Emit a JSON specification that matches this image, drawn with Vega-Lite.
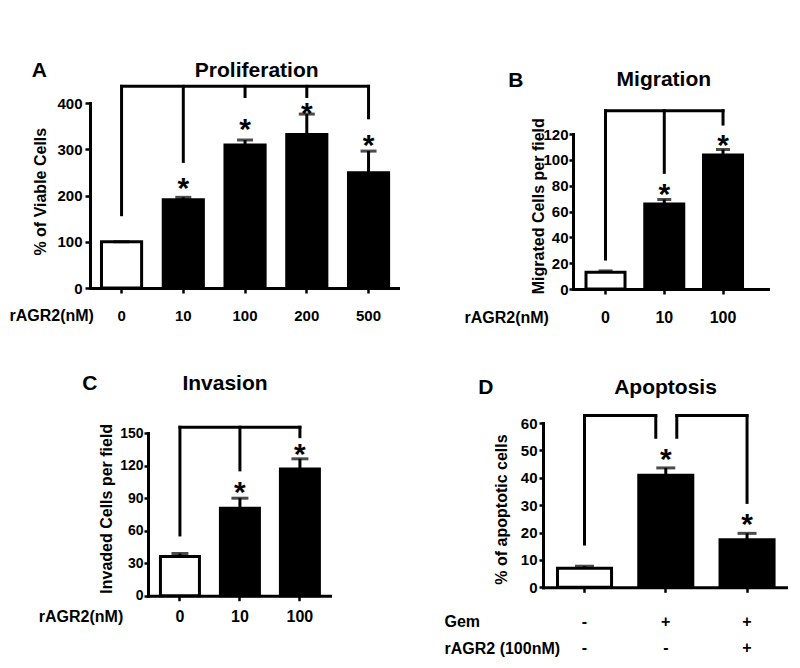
{
  "$schema": "https://vega.github.io/schema/vega-lite/v6.json",
  "padding": 0,
  "config": {
    "font": "Liberation Sans",
    "view": {"stroke": null},
    "axis": {
      "grid": false, "domainColor": "black", "domainWidth": 3, "domainCap": "square",
      "tickColor": "black", "tickWidth": 2.5, "labelColor": "black", "labelFont": "Liberation Sans",
      "labelFontWeight": "bold", "titleColor": "black", "titleFont": "Liberation Sans",
      "titleFontWeight": "bold", "titleFontSize": 16, "labelOverlap": false, "maxExtent": 300
    },
    "axisX": {"labelAngle": 0, "tickSize": 5, "labelFontSize": 16, "titleAlign": "left", "titleBaseline": "middle", "labelBaseline": "middle"},
    "axisY": {"labelFontSize": 15, "titleBaseline": "middle", "titleAlign": "center", "tickCount": 20},
    "title": {"font": "Liberation Sans", "fontSize": 21, "fontWeight": "bold", "color": "black"}
  },
  "datasets": {
    "none": [],
    "A_bars": [
      {"cat": "0", "grp": "ctl", "value": 100, "err": 100, "star": null},
      {"cat": "10", "grp": "trt", "value": 191, "err": 196, "star": 230.5},
      {"cat": "100", "grp": "trt", "value": 309, "err": 320, "star": 360},
      {"cat": "200", "grp": "trt", "value": 332, "err": 376, "star": 394},
      {"cat": "500", "grp": "trt", "value": 249, "err": 296, "star": 325}
    ],
    "A_h": [{"cat": "0", "cat2": "500", "top": 436}],
    "A_v": [
      {"cat": "0", "top": 436, "bot": 158.5},
      {"cat": "10", "top": 436, "bot": 273.7},
      {"cat": "100", "top": 436, "bot": 414},
      {"cat": "200", "top": 436, "bot": 414},
      {"cat": "500", "top": 436, "bot": 368}
    ],
    "B_bars": [
      {"cat": "0", "grp": "ctl", "value": 13, "err": 14, "star": null},
      {"cat": "10", "grp": "trt", "value": 65.9, "err": 69.3, "star": 79.2},
      {"cat": "100", "grp": "trt", "value": 103.8, "err": 108, "star": 116.9}
    ],
    "B_h": [{"cat": "0", "cat2": "100", "top": 138}],
    "B_v": [
      {"cat": "0", "top": 138, "bot": 23.2},
      {"cat": "10", "top": 138, "bot": 90.3},
      {"cat": "100", "top": 138, "bot": 127.7}
    ],
    "C_bars": [
      {"cat": "0", "grp": "ctl", "value": 36.1, "err": 38.9, "star": null},
      {"cat": "10", "grp": "trt", "value": 80.7, "err": 89.9, "star": 102},
      {"cat": "100", "grp": "trt", "value": 116.7, "err": 126.2, "star": 136.8}
    ],
    "C_h": [{"cat": "0", "cat2": "100", "top": 155.3}],
    "C_v": [
      {"cat": "0", "top": 155.3, "bot": 56},
      {"cat": "10", "top": 155.3, "bot": 116},
      {"cat": "100", "top": 155.3, "bot": 146.6}
    ],
    "D_bars": [
      {"cat": "-|-", "grp": "ctl", "value": 7, "err": 7.7, "star": null},
      {"cat": "+|-", "grp": "trt", "value": 40.9, "err": 43.6, "star": 49.3},
      {"cat": "+|+", "grp": "trt", "value": 17.4, "err": 19.7, "star": 25.6}
    ],
    "D_hL": [{"cat": "-|-", "cat2": "+|-", "top": 62.7}],
    "D_hR": [{"cat": "+|-", "cat2": "+|+", "top": 62.7}],
    "D_vO": [
      {"cat": "-|-", "top": 62.7, "bot": 15.8},
      {"cat": "+|+", "top": 62.7, "bot": 31}
    ],
    "D_vI": [{"cat": "+|-", "top": 62.7, "bot": 54.8}]
  },
  "columns": 2,
  "align": "none",
  "spacing": 0,
  "concat": [
    {
      "columns": 1, "align": "none", "spacing": 0,
      "concat": [
        {"width": 1, "height": 60, "data": {"name": "none"}, "mark": "point"},
        {
          "columns": 2, "align": "none", "spacing": 0,
          "concat": [
            {"width": 8, "height": 1, "data": {"name": "none"}, "mark": "point"},
            {
              "title": {"text": "A", "anchor": "start", "frame": "bounds", "offset": -21, "dx": 23.7},
              "vconcat": [
                {
                  "width": 308, "height": 185,
                  "title": {"text": "Proliferation", "anchor": "middle", "frame": "group", "offset": 3, "dx": 12.7},
                  "data": {"name": "A_bars"},
                  "layer": [
                    {
                      "mark": {"type": "bar", "stroke": "black", "strokeWidth": 3},
                      "encoding": {
                        "x": {"field": "cat", "type": "nominal",
                          "scale": {"domain": ["0", "10", "100", "200", "500"], "paddingInner": 0.35, "paddingOuter": 0.169, "align": 0.55},
                          "axis": {"title": "rAGR2(nM)", "labelPadding": 22, "labelFontSize": 15, "titleX": -81, "titleY": 27, "minExtent": 85, "labelOverlap": false}},
                        "y": {"field": "value", "type": "quantitative",
                          "scale": {"domain": [0, 400], "nice": false},
                          "axis": {"title": "% of Viable Cells", "values": [0, 100, 200, 300, 400], "tickCount": 20, "tickSize": 5, "labelPadding": 3, "labelFontSize": 15, "minExtent": 82, "titleX": -50, "titleY": 88.2, "labelOverlap": false}},
                        "fill": {"field": "grp", "type": "nominal", "scale": {"domain": ["ctl", "trt"], "range": ["white", "black"]}, "legend": null}
                      }
                    },
                    {
                      "mark": {"type": "rule", "color": "black", "strokeWidth": 3},
                      "encoding": {"x": {"field": "cat", "type": "nominal"}, "y": {"field": "value", "type": "quantitative"}, "y2": {"field": "err"}}
                    },
                    {
                      "mark": {"type": "tick", "color": "black", "thickness": 3, "size": 16},
                      "encoding": {"x": {"field": "cat", "type": "nominal"}, "y": {"field": "err", "type": "quantitative"}}
                    },
                    {
                      "transform": [{"filter": "isValid(datum.star)"}],
                      "mark": {"type": "text", "text": "*", "fontSize": 30, "fontWeight": "bold", "dy": 17, "baseline": "alphabetic", "color": "black"},
                      "encoding": {"x": {"field": "cat", "type": "nominal"}, "y": {"field": "star", "type": "quantitative"}}
                    },
                    {
                      "data": {"name": "A_h"},
                      "mark": {"type": "rule", "color": "black", "strokeWidth": 3, "strokeCap": "square"},
                      "encoding": {"x": {"field": "cat", "type": "nominal", "bandPosition": 0.5}, "x2": {"field": "cat2", "bandPosition": 0.5}, "y": {"field": "top", "type": "quantitative"}}
                    },
                    {
                      "data": {"name": "A_v"},
                      "mark": {"type": "rule", "color": "black", "strokeWidth": 3, "strokeCap": "square"},
                      "encoding": {"x": {"field": "cat", "type": "nominal"}, "y": {"field": "top", "type": "quantitative"}, "y2": {"field": "bot"}}
                    }
                  ]
                }
              ]
            }
          ]
        },
        {
          "columns": 2, "align": "none", "spacing": 0,
          "concat": [
            {"width": 9, "height": 1, "data": {"name": "none"}, "mark": "point"},
            {
              "title": {"text": "C", "anchor": "start", "frame": "bounds", "offset": -21, "dx": 73.3},
              "vconcat": [
                {
                  "width": 182, "height": 162.7,
                  "title": {"text": "Invasion", "anchor": "middle", "frame": "group", "offset": 29, "dx": -14},
                  "data": {"name": "C_bars"},
                  "layer": [
                    {
                      "mark": {"type": "bar", "stroke": "black", "strokeWidth": 3},
                      "encoding": {
                        "x": {"field": "cat", "type": "nominal",
                          "scale": {"domain": ["0", "10", "100"], "paddingInner": 0.35, "paddingOuter": 0.192, "align": 0.54},
                          "axis": {"title": "rAGR2(nM)", "labelPadding": 16, "titleX": -109.7, "titleY": 21, "minExtent": 40, "labelOverlap": false}},
                        "y": {"field": "value", "type": "quantitative",
                          "scale": {"domain": [0, 150], "nice": false},
                          "axis": {"title": "Invaded Cells per field", "values": [0, 30, 60, 90, 120, 150], "tickCount": 20, "tickSize": 4, "labelPadding": 1, "labelFontSize": 14, "minExtent": 139, "titleX": -41.3, "titleY": 75.3, "labelOverlap": false}},
                        "fill": {"field": "grp", "type": "nominal", "scale": {"domain": ["ctl", "trt"], "range": ["white", "black"]}, "legend": null}
                      }
                    },
                    {
                      "mark": {"type": "rule", "color": "black", "strokeWidth": 3},
                      "encoding": {"x": {"field": "cat", "type": "nominal"}, "y": {"field": "value", "type": "quantitative"}, "y2": {"field": "err"}}
                    },
                    {
                      "mark": {"type": "tick", "color": "black", "thickness": 3, "size": 17},
                      "encoding": {"x": {"field": "cat", "type": "nominal"}, "y": {"field": "err", "type": "quantitative"}}
                    },
                    {
                      "transform": [{"filter": "isValid(datum.star)"}],
                      "mark": {"type": "text", "text": "*", "fontSize": 30, "fontWeight": "bold", "dy": 17, "baseline": "alphabetic", "color": "black"},
                      "encoding": {"x": {"field": "cat", "type": "nominal"}, "y": {"field": "star", "type": "quantitative"}}
                    },
                    {
                      "data": {"name": "C_h"},
                      "mark": {"type": "rule", "color": "black", "strokeWidth": 3, "strokeCap": "square"},
                      "encoding": {"x": {"field": "cat", "type": "nominal", "bandPosition": 0.5}, "x2": {"field": "cat2", "bandPosition": 0.5}, "y": {"field": "top", "type": "quantitative"}}
                    },
                    {
                      "data": {"name": "C_v"},
                      "mark": {"type": "rule", "color": "black", "strokeWidth": 3, "strokeCap": "square"},
                      "encoding": {"x": {"field": "cat", "type": "nominal"}, "y": {"field": "top", "type": "quantitative"}, "y2": {"field": "bot"}}
                    }
                  ]
                }
              ]
            }
          ]
        }
      ]
    },
    {
      "columns": 1, "align": "none", "spacing": 0,
      "concat": [
        {"width": 1, "height": 68, "data": {"name": "none"}, "mark": "point"},
        {
          "columns": 2, "align": "none", "spacing": 0,
          "concat": [
            {"width": 65, "height": 1, "data": {"name": "none"}, "mark": "point"},
            {
              "title": {"text": "B", "anchor": "start", "frame": "bounds", "offset": -22.2, "dx": 45.2},
              "vconcat": [
                {
                  "width": 195, "height": 155,
                  "title": {"text": "Migration", "anchor": "middle", "frame": "group", "offset": 19, "dx": -6.7},
                  "data": {"name": "B_bars"},
                  "layer": [
                    {
                      "mark": {"type": "bar", "stroke": "black", "strokeWidth": 3},
                      "encoding": {
                        "x": {"field": "cat", "type": "nominal",
                          "scale": {"domain": ["0", "10", "100"], "paddingInner": 0.336, "paddingOuter": 0.3275, "align": 0.338},
                          "axis": {"title": "rAGR2(nM)", "labelPadding": 23.4, "titleX": -109, "titleY": 28.4, "minExtent": 87.5, "labelOverlap": false}},
                        "y": {"field": "value", "type": "quantitative",
                          "scale": {"domain": [0, 120], "nice": false},
                          "axis": {"title": "Migrated Cells per field", "values": [0, 20, 40, 60, 80, 100, 120], "tickCount": 20, "tickSize": 4, "labelPadding": 1, "minExtent": 110, "titleX": -35, "titleY": 71.7, "labelOverlap": false}},
                        "fill": {"field": "grp", "type": "nominal", "scale": {"domain": ["ctl", "trt"], "range": ["white", "black"]}, "legend": null}
                      }
                    },
                    {
                      "mark": {"type": "rule", "color": "black", "strokeWidth": 3},
                      "encoding": {"x": {"field": "cat", "type": "nominal"}, "y": {"field": "value", "type": "quantitative"}, "y2": {"field": "err"}}
                    },
                    {
                      "mark": {"type": "tick", "color": "black", "thickness": 3, "size": 14},
                      "encoding": {"x": {"field": "cat", "type": "nominal"}, "y": {"field": "err", "type": "quantitative"}}
                    },
                    {
                      "transform": [{"filter": "isValid(datum.star)"}],
                      "mark": {"type": "text", "text": "*", "fontSize": 30, "fontWeight": "bold", "dy": 17, "baseline": "alphabetic", "color": "black"},
                      "encoding": {"x": {"field": "cat", "type": "nominal"}, "y": {"field": "star", "type": "quantitative"}}
                    },
                    {
                      "data": {"name": "B_h"},
                      "mark": {"type": "rule", "color": "black", "strokeWidth": 3, "strokeCap": "square"},
                      "encoding": {"x": {"field": "cat", "type": "nominal", "bandPosition": 0.5}, "x2": {"field": "cat2", "bandPosition": 0.5}, "y": {"field": "top", "type": "quantitative"}}
                    },
                    {
                      "data": {"name": "B_v"},
                      "mark": {"type": "rule", "color": "black", "strokeWidth": 3, "strokeCap": "square"},
                      "encoding": {"x": {"field": "cat", "type": "nominal"}, "y": {"field": "top", "type": "quantitative"}, "y2": {"field": "bot"}}
                    }
                  ]
                }
              ]
            }
          ]
        },
        {
          "columns": 2, "align": "none", "spacing": 0,
          "concat": [
            {"width": 45, "height": 1, "data": {"name": "none"}, "mark": "point"},
            {
              "title": {"text": "D", "anchor": "start", "frame": "bounds", "offset": -21, "dx": 35.2},
              "vconcat": [
                {
                  "width": 245, "height": 164.3,
                  "title": {"text": "Apoptosis", "anchor": "middle", "frame": "group", "offset": 15.2, "dx": 0},
                  "data": {"name": "D_bars"},
                  "layer": [
                    {
                      "mark": {"type": "bar", "stroke": "black", "strokeWidth": 3},
                      "encoding": {
                        "x": {"field": "cat", "type": "nominal",
                          "scale": {"domain": ["-|-", "+|-", "+|+"], "paddingInner": 0.335, "paddingOuter": 0.175, "align": 0.51},
                          "axis": {"title": ["Gem", "rAGR2 (100nM)"], "labelExpr": "split(datum.label, '|')", "labelBaseline": "top", "labelLineHeight": 26.7, "labelPadding": 21, "titleBaseline": "top", "titleLineHeight": 26.7, "titleX": -99, "titleY": 26.5, "labelOverlap": false}},
                        "y": {"field": "value", "type": "quantitative",
                          "scale": {"domain": [0, 60], "nice": false},
                          "axis": {"title": "% of apoptotic cells", "values": [0, 10, 20, 30, 40, 50, 60], "tickCount": 20, "tickSize": 4, "labelPadding": 2, "minExtent": 100, "titleX": -41.7, "titleY": 86, "labelOverlap": false}},
                        "fill": {"field": "grp", "type": "nominal", "scale": {"domain": ["ctl", "trt"], "range": ["white", "black"]}, "legend": null}
                      }
                    },
                    {
                      "mark": {"type": "rule", "color": "black", "strokeWidth": 3},
                      "encoding": {"x": {"field": "cat", "type": "nominal"}, "y": {"field": "value", "type": "quantitative"}, "y2": {"field": "err"}}
                    },
                    {
                      "mark": {"type": "tick", "color": "black", "thickness": 3, "size": 19},
                      "encoding": {"x": {"field": "cat", "type": "nominal"}, "y": {"field": "err", "type": "quantitative"}}
                    },
                    {
                      "transform": [{"filter": "isValid(datum.star)"}],
                      "mark": {"type": "text", "text": "*", "fontSize": 30, "fontWeight": "bold", "dy": 17, "baseline": "alphabetic", "color": "black"},
                      "encoding": {"x": {"field": "cat", "type": "nominal"}, "y": {"field": "star", "type": "quantitative"}}
                    },
                    {
                      "data": {"name": "D_hL"},
                      "mark": {"type": "rule", "color": "black", "strokeWidth": 3, "strokeCap": "square", "x2Offset": -10},
                      "encoding": {"x": {"field": "cat", "type": "nominal", "bandPosition": 0.5}, "x2": {"field": "cat2", "bandPosition": 0.5}, "y": {"field": "top", "type": "quantitative"}}
                    },
                    {
                      "data": {"name": "D_hR"},
                      "mark": {"type": "rule", "color": "black", "strokeWidth": 3, "strokeCap": "square", "xOffset": 11},
                      "encoding": {"x": {"field": "cat", "type": "nominal", "bandPosition": 0.5}, "x2": {"field": "cat2", "bandPosition": 0.5}, "y": {"field": "top", "type": "quantitative"}}
                    },
                    {
                      "data": {"name": "D_vO"},
                      "mark": {"type": "rule", "color": "black", "strokeWidth": 3, "strokeCap": "square"},
                      "encoding": {"x": {"field": "cat", "type": "nominal"}, "y": {"field": "top", "type": "quantitative"}, "y2": {"field": "bot"}}
                    },
                    {
                      "data": {"name": "D_vI"},
                      "mark": {"type": "rule", "color": "black", "strokeWidth": 3, "strokeCap": "square", "xOffset": -10},
                      "encoding": {"x": {"field": "cat", "type": "nominal"}, "y": {"field": "top", "type": "quantitative"}, "y2": {"field": "bot"}}
                    },
                    {
                      "data": {"name": "D_vI"},
                      "mark": {"type": "rule", "color": "black", "strokeWidth": 3, "strokeCap": "square", "xOffset": 11},
                      "encoding": {"x": {"field": "cat", "type": "nominal"}, "y": {"field": "top", "type": "quantitative"}, "y2": {"field": "bot"}}
                    }
                  ]
                }
              ]
            }
          ]
        }
      ]
    }
  ]
}
